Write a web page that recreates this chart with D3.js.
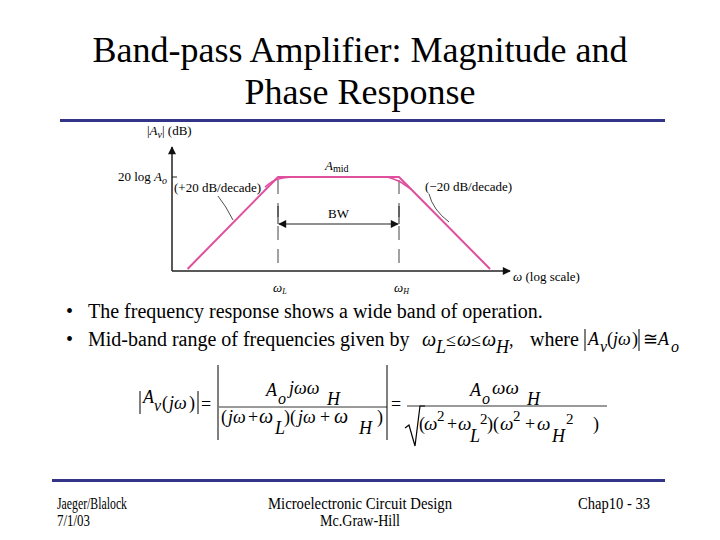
<!DOCTYPE html>
<html>
<head>
<meta charset="utf-8">
<script src="https://cdn.jsdelivr.net/npm/d3@7"></script>
<style>
  body { margin: 0; background: #fff; }
  svg text { font-family: "Liberation Serif", "Times New Roman", serif; fill: #000; }
</style>
</head>
<body>
<script>
// asymptotic (Bode) magnitude, frequencies in rad/s, gain in dB
var asymFreq = [3.2, 100, 1e4, 3.2e5];
var asymDb = [10, 40, 40, 10];
// actual response near the two corners
var lowCornerFreq = [61, 79, 108, 170];
var lowCornerDb = [36.7, 38.7, 39.6, 40];
var highCornerFreq = [6300, 7900, 1e4, 12600, 15800];
var highCornerDb = [40, 39.5, 38.7, 37.4, 36];
var cornerFreqs = [100, 1e4];
var cornerLabels = ["L", "H"];
var midbandDb = 40;

var W = 720, H = 540;
var svg = d3.select("body").append("svg").attr("width", W).attr("height", H);
svg.append("rect").attr("width", W).attr("height", H).attr("fill", "#fff");

// ---- slide chrome ----
var bar = "#333388";
svg.append("rect").attr("x", 60).attr("y", 119).attr("width", 605).attr("height", 3).attr("fill", bar);
svg.append("rect").attr("x", 52).attr("y", 479).attr("width", 613).attr("height", 3).attr("fill", bar);

var title = svg.append("text").attr("text-anchor", "middle").style("font-size", "36px");
title.append("tspan").attr("x", 360).attr("y", 62).text("Band-pass Amplifier: Magnitude and");
title.append("tspan").attr("x", 360).attr("y", 104).text("Phase Response");

// ---- chart ----
var x = d3.scaleLog().domain([1, 1e6]).range([157, 520]);
var y = d3.scaleLinear().domain([10, 40]).range([269, 177]);
var ax0 = 172, ay0 = 271;
var pink = "#df4f9e";

var defs = svg.append("defs");
defs.append("marker").attr("id", "ah").attr("viewBox", "0 0 10 10").attr("refX", 9).attr("refY", 5)
  .attr("markerWidth", 10).attr("markerHeight", 8).attr("markerUnits", "userSpaceOnUse").attr("orient", "auto-start-reverse")
  .append("path").attr("d", "M0,0L10,5L0,10z").attr("fill", "#111");

var g = svg.append("g");
// axes
g.append("line").attr("x1", ax0).attr("y1", ay0).attr("x2", 510).attr("y2", ay0)
  .attr("stroke", "#222").attr("stroke-width", 1.5).attr("marker-end", "url(#ah)");
g.append("line").attr("x1", ax0).attr("y1", ay0).attr("x2", ax0).attr("y2", 147)
  .attr("stroke", "#222").attr("stroke-width", 1.5).attr("marker-end", "url(#ah)");
g.append("line").attr("x1", ax0).attr("x2", ax0 + 5).attr("y1", y(midbandDb)).attr("y2", y(midbandDb))
  .attr("stroke", "#222").attr("stroke-width", 1);

// dashed corner lines
g.selectAll(".corner").data(cornerFreqs).enter().append("line")
  .attr("x1", function(d){ return x(d); }).attr("x2", function(d){ return x(d); })
  .attr("y1", y(midbandDb) + 3).attr("y2", ay0 - 4)
  .attr("stroke", "#444").attr("stroke-width", 1).attr("stroke-dasharray", "14,9");

// BW arrow
var bwY = 224;
g.selectAll(".bwtick").data(cornerFreqs).enter().append("line")
  .attr("x1", function(d){ return x(d); }).attr("x2", function(d){ return x(d); })
  .attr("y1", 206).attr("y2", bwY).attr("stroke", "#222").attr("stroke-width", 1);
g.append("line").attr("x1", x(cornerFreqs[0]) + 1).attr("x2", x(cornerFreqs[1]) - 1).attr("y1", bwY).attr("y2", bwY)
  .attr("stroke", "#222").attr("stroke-width", 1.2)
  .attr("marker-start", "url(#ah)").attr("marker-end", "url(#ah)");
g.append("text").attr("x", (x(cornerFreqs[0]) + x(cornerFreqs[1])) / 2).attr("y", 218)
  .attr("text-anchor", "middle").style("font-size", "13px").text("BW");

// response lines
var line = d3.line().x(function(d){ return x(d[0]); }).y(function(d){ return y(d[1]); });
var smooth = d3.line().curve(d3.curveBasis).x(function(d){ return x(d[0]); }).y(function(d){ return y(d[1]); });
g.append("path").datum(d3.zip(asymFreq, asymDb)).attr("d", line)
  .attr("fill", "none").attr("stroke", pink).attr("stroke-width", 2).attr("stroke-linejoin", "round");
[d3.zip(lowCornerFreq, lowCornerDb), d3.zip(highCornerFreq, highCornerDb)].forEach(function(pts){
  g.append("path").datum(pts).attr("d", smooth)
    .attr("fill", "none").attr("stroke", pink).attr("stroke-width", 1.5);
});

// leader lines
g.append("path").attr("d", "M218,196 Q226,206 233,220").attr("fill", "none").attr("stroke", "#222").attr("stroke-width", 0.8);
g.append("path").attr("d", "M429,194 Q433,210 449,222").attr("fill", "none").attr("stroke", "#222").attr("stroke-width", 0.8);

// chart labels
var lab = g.append("text").attr("x", 147).attr("y", 135).style("font-size", "13px");
lab.append("tspan").text("|");
lab.append("tspan").style("font-style", "italic").text("A");
lab.append("tspan").style("font-style", "italic").style("font-size", "10px").attr("dy", 3).text("v");
lab.append("tspan").attr("dy", -3).text("| (dB)");

var ylab = g.append("text").attr("x", 167).attr("y", y(midbandDb) + 4).attr("text-anchor", "end").style("font-size", "13px");
ylab.append("tspan").text("20 log ");
ylab.append("tspan").style("font-style", "italic").text("A");
ylab.append("tspan").style("font-style", "italic").style("font-size", "10px").attr("dy", 3).text("o");

var amid = g.append("text").attr("x", 325).attr("y", 170).style("font-size", "13px");
amid.append("tspan").style("font-style", "italic").text("A");
amid.append("tspan").style("font-size", "10px").attr("dy", 2).text("mid");

g.append("text").attr("x", 174).attr("y", 192).style("font-size", "13px").text("(+20 dB/decade)");
g.append("text").attr("x", 425).attr("y", 191).style("font-size", "13px").text("(\u221220 dB/decade)");

g.selectAll(".wlab").data(cornerFreqs).enter().append("text")
  .attr("x", function(d){ return x(d) - 5; }).attr("y", 292).style("font-size", "13px")
  .each(function(d, i){
    var t = d3.select(this);
    t.append("tspan").style("font-style", "italic").text("\u03c9");
    t.append("tspan").style("font-style", "italic").style("font-size", "8px").attr("dy", 2).text(cornerLabels[i]);
  });
var xl = g.append("text").attr("x", 513).attr("y", 281).style("font-size", "13px");
xl.append("tspan").style("font-style", "italic").text("\u03c9");
xl.append("tspan").text(" (log scale)");

// ---- bullets ----
var bullets = svg.append("g").style("font-size", "20px");
bullets.append("text").attr("x", 66).attr("y", 318).text("\u2022");
bullets.append("text").attr("x", 88).attr("y", 318).text("The frequency response shows a wide band of operation.");
bullets.append("text").attr("x", 66).attr("y", 346).text("\u2022");
bullets.append("text").attr("x", 88).attr("y", 346).text("Mid-band range of frequencies given by");

function mt(px, py, s, opt) {
  opt = opt || {};
  return svg.append("text").attr("x", px).attr("y", py)
    .style("font-size", (opt.size || 18) + "px")
    .style("font-style", opt.upright ? "normal" : "italic")
    .attr("text-anchor", opt.anchor || "start").text(s);
}
function bar1(px, y1, y2) {
  svg.append("line").attr("x1", px).attr("x2", px).attr("y1", y1).attr("y2", y2).attr("stroke", "#000").attr("stroke-width", 1);
}
// ωL ≤ ω ≤ ωH
mt(422, 346, "\u03c9", {size: 20}); mt(436, 353, "L", {size: 18});
mt(446, 346, "\u2264", {size: 18, upright: true}); mt(457, 346, "\u03c9", {size: 20});
mt(471, 346, "\u2264", {size: 18, upright: true}); mt(482, 346, "\u03c9", {size: 20}); mt(496, 353, "H", {size: 18});
mt(509, 346, ",", {size: 18, upright: true});
svg.append("text").attr("x", 530).attr("y", 346).style("font-size", "20px").text("where");
bar1(585, 329, 351);
mt(588, 345, "A", {size: 18}); mt(600, 352, "v", {size: 16});
mt(607, 345, "(", {size: 18, upright: true}); mt(613, 345, "j\u03c9", {size: 18}); mt(632, 345, ")", {size: 18, upright: true});
bar1(639, 329, 351);
mt(643, 345, "\u2245", {size: 18, upright: true}); mt(658, 345, "A", {size: 18}); mt(671, 352, "o", {size: 16});

// ---- formula ----
bar1(140, 391, 414);
mt(143, 403, "A"); mt(154, 411, "v", {size: 16});
mt(162, 409, "(", {upright: true}); mt(169, 409, "j\u03c9"); mt(189, 409, ")", {upright: true});
bar1(198, 391, 414);
mt(201, 410, "=", {upright: true});
bar1(218, 365, 440); bar1(387, 365, 440);
mt(266, 396, "A"); mt(278, 404, "o", {size: 16}); mt(289, 394, "j\u03c9\u03c9"); mt(327, 405, "H");
svg.append("line").attr("x1", 219).attr("x2", 387).attr("y1", 407).attr("y2", 407).attr("stroke", "#000").attr("stroke-width", 0.8);
mt(221, 423, "(", {upright: true}); mt(228, 423, "j\u03c9"); mt(248, 423, "+", {upright: true}); mt(259, 423, "\u03c9", {size: 20});
mt(275, 434, "L"); mt(284, 423, ")(", {upright: true}); mt(298, 423, "j\u03c9"); mt(320, 423, "+", {upright: true});
mt(334, 423, "\u03c9", {size: 20}); mt(359, 434, "H"); mt(377, 423, ")", {upright: true});
mt(391, 410, "=", {upright: true});
mt(470, 396, "A"); mt(482, 404, "o", {size: 16}); mt(492, 394, "\u03c9\u03c9", {size: 19}); mt(527, 405, "H");
svg.append("line").attr("x1", 407).attr("x2", 607).attr("y1", 406).attr("y2", 406).attr("stroke", "#000").attr("stroke-width", 0.8);
svg.append("path").attr("d", "M405,428 L409,425 L415,446 L420,406 L425,406").attr("fill", "none").attr("stroke", "#000").attr("stroke-width", 1.2);
mt(419, 430, "(", {upright: true}); mt(424, 430, "\u03c9", {size: 19}); mt(437, 421, "2", {upright: true, size: 15});
mt(447, 430, "+", {upright: true}); mt(458, 430, "\u03c9", {size: 19}); mt(470, 442, "L"); mt(480, 424, "2", {upright: true, size: 15});
mt(487, 430, ")(", {upright: true}); mt(500, 430, "\u03c9", {size: 19}); mt(513, 421, "2", {upright: true, size: 15});
mt(525, 430, "+", {upright: true}); mt(537, 430, "\u03c9", {size: 19}); mt(552, 442, "H"); mt(566, 424, "2", {upright: true, size: 15});
mt(593, 430, ")", {upright: true});

// ---- footer ----
var foot = svg.append("g").style("font-size", "16px");
foot.append("text").attr("x", 57).attr("y", 509).attr("textLength", 70).attr("lengthAdjust", "spacingAndGlyphs").text("Jaeger/Blalock");
foot.append("text").attr("x", 57).attr("y", 526).attr("textLength", 33).attr("lengthAdjust", "spacingAndGlyphs").text("7/1/03");
foot.append("text").attr("x", 268).attr("y", 509).attr("textLength", 184).attr("lengthAdjust", "spacingAndGlyphs").text("Microelectronic Circuit Design");
foot.append("text").attr("x", 320).attr("y", 526).attr("textLength", 80).attr("lengthAdjust", "spacingAndGlyphs").text("Mc.Graw-Hill");
foot.append("text").attr("x", 578).attr("y", 509).attr("textLength", 72).attr("lengthAdjust", "spacingAndGlyphs").text("Chap10 - 33");
</script>
</body>
</html>
